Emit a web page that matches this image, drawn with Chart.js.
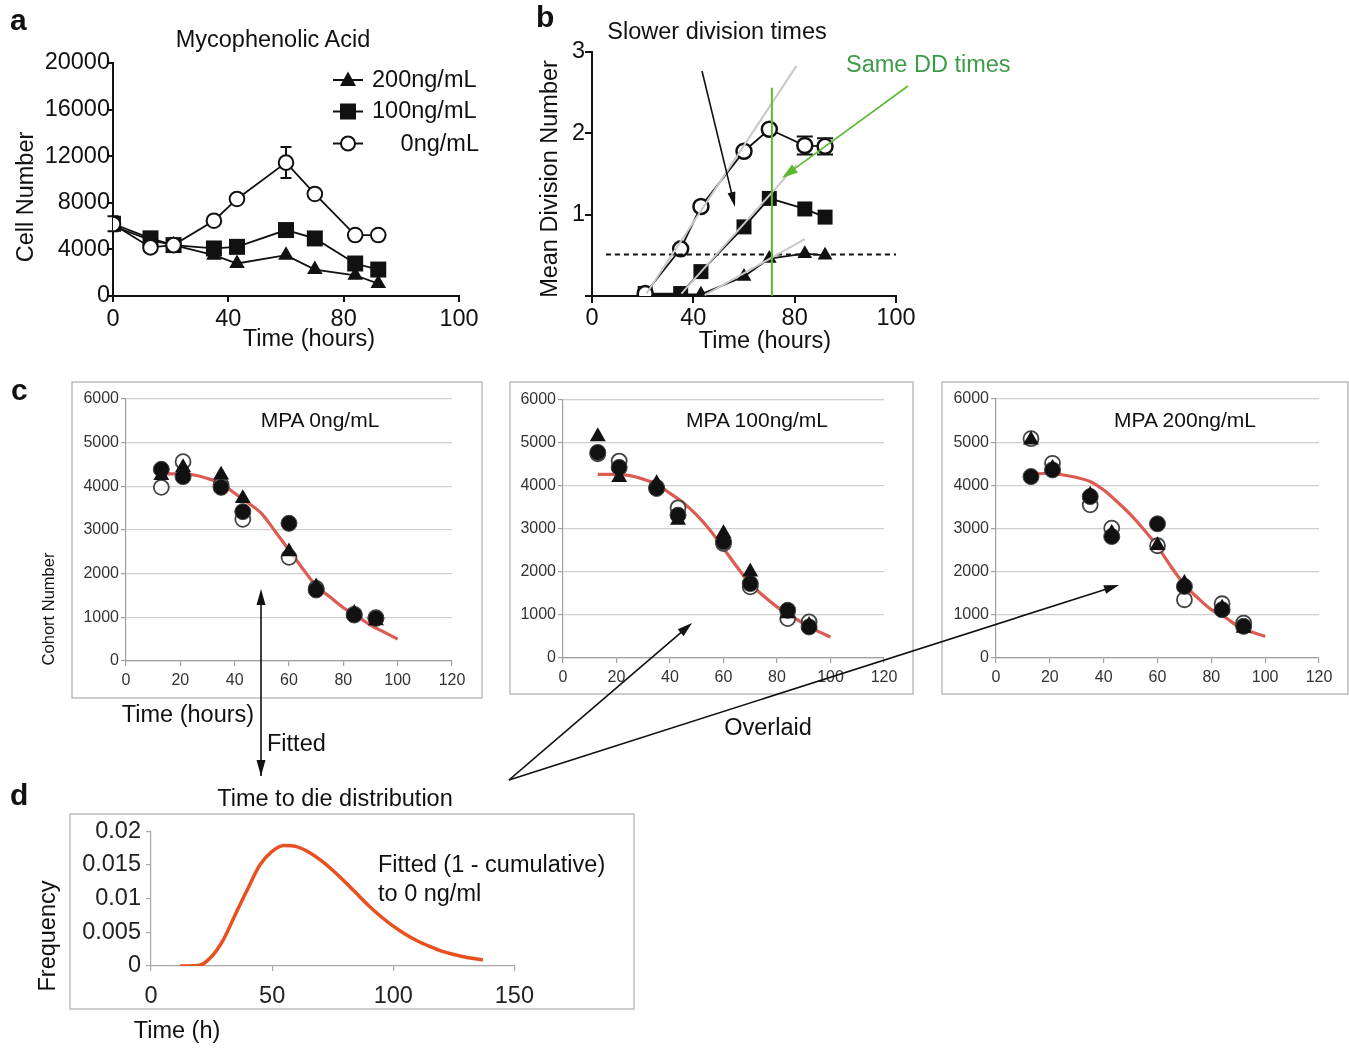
<!DOCTYPE html>
<html>
<head>
<meta charset="utf-8">
<script src="https://cdn.jsdelivr.net/npm/chart.js@4.4.1/dist/chart.umd.min.js"></script>
<style>
body { margin: 0; background: #fff; }
#fig { position: relative; width: 1349px; height: 1049px; overflow: hidden; background: #fff; }
#fig canvas { position: absolute; }
#ann { position: absolute; left: 0; top: 0; z-index: 5; pointer-events: none; }
#ann text { font-family: 'Liberation Sans', Arial, sans-serif; fill: #111; }
</style>
</head>
<body>
<div id="fig">
<svg id="ann" width="1349" height="1049" xmlns="http://www.w3.org/2000/svg">
  <!-- panel letters -->
  <g font-weight="bold" font-size="30">
    <text x="10" y="30">a</text>
    <text x="536" y="27">b</text>
    <text x="11" y="400">c</text>
    <text x="10" y="805">d</text>
  </g>
  <g font-size="23.5">
    <!-- a -->
    <text x="273" y="47" text-anchor="middle">Mycophenolic Acid</text>
    <text transform="translate(33,197) rotate(-90)" text-anchor="middle">Cell Number</text>
    <text x="309" y="346" text-anchor="middle">Time (hours)</text>
    <text x="372" y="87">200ng/mL</text>
    <text x="372" y="118">100ng/mL</text>
    <text x="479" y="151" text-anchor="end">0ng/mL</text>
    <!-- b -->
    <text x="717" y="39" text-anchor="middle">Slower division times</text>
    <text transform="translate(557,179) rotate(-90)" text-anchor="middle">Mean Division Number</text>
    <text x="765" y="348" text-anchor="middle">Time (hours)</text>
    <text x="846" y="72" style="fill:#3d9b47">Same DD times</text>
    <!-- c -->
    <text x="188" y="722" text-anchor="middle">Time (hours)</text>
    <text x="267" y="751">Fitted</text>
    <text x="768" y="735" text-anchor="middle">Overlaid</text>
    <!-- d -->
    <text x="335" y="806" text-anchor="middle">Time to die distribution</text>
    <text transform="translate(55,936) rotate(-90)" text-anchor="middle">Frequency</text>
    <text x="177" y="1038" text-anchor="middle">Time (h)</text>
    <text x="378" y="872">Fitted (1 - cumulative)</text>
    <text x="378" y="901">to 0 ng/ml</text>
  </g>
  <g font-size="21">
    <text x="320" y="427" text-anchor="middle">MPA 0ng/mL</text>
    <text x="757" y="427" text-anchor="middle">MPA 100ng/mL</text>
    <text x="1185" y="427" text-anchor="middle">MPA 200ng/mL</text>
  </g>
  <text transform="translate(54,609) rotate(-90)" text-anchor="middle" font-size="16.5">Cohort Number</text>
  <!-- frames -->
  <g fill="none" stroke="#bdbdbd" stroke-width="1.5">
    <rect x="72" y="382" width="410" height="316"/>
    <rect x="510" y="382" width="403" height="312"/>
    <rect x="942" y="382" width="406" height="312"/>
    <rect x="70" y="814" width="564" height="195"/>
  </g>
  <!-- legend of a -->
  <g stroke="#111" stroke-width="2">
    <line x1="333" y1="80" x2="363" y2="80"/>
    <line x1="333" y1="111.5" x2="363" y2="111.5"/>
    <line x1="333" y1="143.5" x2="363" y2="143.5"/>
  </g>
  <polygon points="348,71.5 356,86 340,86" fill="#111"/>
  <rect x="340" y="103.5" width="16" height="16" fill="#111"/>
  <circle cx="348" cy="143.5" r="7" fill="#fff" stroke="#111" stroke-width="2"/>
  <g id="arrows"></g>
</svg>
</div>
<script>
// ---- data ----
// panel a: cell number
const timesA = [0, 13, 21, 35, 43, 60, 70, 84, 92];
const cells0 = [6170, 4170, 4370, 6460, 8330, 11450, 8760, 5230, 5230];
const cells0Err = [0, 0, 0, 0, 0, 1330, 0, 0, 0];
const cells100 = [6200, 4950, 4370, 4080, 4220, 5660, 4940, 2790, 2270];
const cells100Err = [650, 0, 0, 0, 0, 0, 0, 0, 0];
const cells200 = [6000, 4800, 4370, 3500, 2790, 3500, 2270, 1780, 1070];
const ticksA = ['0', '40', '80', '100'];

// panel b: mean division number
const timesB = [21, 35, 43, 60, 70, 84, 92];
const div0 = [0.03, 0.58, 1.10, 1.78, 2.05, 1.85, 1.84];
const div0Err = [0, 0, 0, 0, 0, 0.11, 0.10];
const div100 = [0.03, 0.03, 0.30, 0.85, 1.20, 1.07, 0.97];
const div200 = [0.02, 0.02, 0.02, 0.24, 0.46, 0.52, 0.50];
const fit0X = [21.5, 80.7], fit0Y = [0.03, 2.83];
const fit100X = [35.3, 80.7], fit100Y = [0.03, 1.61];
const fit200X = [44.5, 84.0], fit200Y = [0.01, 0.70];
const halfX = [5.5, 120], halfY = [0.51, 0.51];
const ddX = [71, 71], ddY = [0, 2.56];

// panel c: cohort number, three replicates per dose
const timesC = [13, 21, 35, 43, 60, 70, 84, 92];
const c0Filled = [4390, 4222, 3977, 3420, 3153, 1626, 1053, 977];
const c0Open = [3977, 4565, 4030, 3245, 2374, 1664, 1070, 992];
const c0Tri = [4250, 4435, 4260, 3725, 2504, 1702, 1092, 924];
const c100Filled = [4780, 4432, 3943, 3322, 2701, 1731, 1110, 722];
const c100Open = [4750, 4580, 3966, 3493, 2662, 1653, 916, 838];
const c100Tri = [5150, 4200, 4060, 3206, 2895, 2003, 1032, 761];
const c200Filled = [4203, 4357, 3740, 2815, 3108, 1658, 1118, 733];
const c200Open = [5080, 4511, 3548, 3008, 2600, 1350, 1257, 810];
const c200Tri = [5050, 4396, 3779, 2892, 2607, 1735, 1157, 694];
const fitTimes = [13, 20, 25, 30, 35, 40, 45, 50, 55, 60, 65, 70, 75, 80, 85, 90, 95, 100];
const fitC0 = [4280, 4290, 4260, 4180, 4070, 3840, 3620, 3370, 2960, 2540, 2120, 1720, 1470, 1220, 1030, 820, 660, 500];
const fitC100 = [4270, 4270, 4240, 4160, 4040, 3830, 3610, 3320, 2970, 2550, 2120, 1730, 1440, 1190, 990, 800, 630, 490];
const fitC200 = [4260, 4280, 4240, 4180, 4090, 3890, 3620, 3320, 2970, 2580, 2120, 1700, 1390, 1120, 950, 730, 600, 500];

// panel d: time to die distribution
const dieTimes = [12, 15, 20, 25, 30, 35, 40, 45, 50, 55, 60, 65, 70, 75, 80, 85, 90, 95, 100, 105, 110, 115, 120, 125, 130, 137];
const dieFreq = [0, 0, 0.0001, 0.0014, 0.0040, 0.0078, 0.0115, 0.0150, 0.0170, 0.01785, 0.0177, 0.0169, 0.0157, 0.0142, 0.0125, 0.0107, 0.0089, 0.0073, 0.0059, 0.0047, 0.0037, 0.0029, 0.0022, 0.0017, 0.0013, 0.0009];

// ---- helpers ----
Chart.defaults.font.family = "'Liberation Sans', Arial, sans-serif";
Chart.defaults.color = '#111';

const xy = (xs, ys) => xs.map((x, i) => ({ x: x, y: ys[i] }));

const errorBars = {
  id: 'errorBars',
  beforeDatasetsDraw(chart) {
    const { ctx, scales: { x, y } } = chart;
    chart.data.datasets.forEach(ds => {
      if (!ds.errors) return;
      ctx.save();
      ctx.strokeStyle = '#111';
      ctx.lineWidth = 2;
      const cap = ds.capWidth || 5;
      ds.data.forEach((p, j) => {
        const e = ds.errors[j];
        if (!e) return;
        const px = x.getPixelForValue(p.x);
        const top = y.getPixelForValue(p.y + e);
        const bot = y.getPixelForValue(p.y - e);
        ctx.beginPath();
        ctx.moveTo(px, top); ctx.lineTo(px, bot);
        ctx.moveTo(px - cap, top); ctx.lineTo(px + cap, top);
        ctx.moveTo(px - cap, bot); ctx.lineTo(px + cap, bot);
        ctx.stroke();
      });
      ctx.restore();
    });
  }
};

// place a chart so that its plot area is exactly [L,R]x[T,B]
function makeChart(L, T, R, B, pad, datasets, scales) {
  const c = document.createElement('canvas');
  const w = R - L + pad.l + pad.r, h = B - T + pad.t + pad.b;
  c.width = w; c.height = h;
  c.style.left = (L - pad.l) + 'px';
  c.style.top = (T - pad.t) + 'px';
  document.getElementById('fig').insertBefore(c, document.getElementById('ann'));
  scales.x.afterFit = s => { s.height = pad.b; };
  scales.y.afterFit = s => { s.width = pad.l; };
  return new Chart(c, {
    type: 'scatter',
    data: { datasets: datasets },
    options: {
      responsive: false,
      animation: false,
      layout: { padding: { top: pad.t, right: pad.r, left: 0, bottom: 0 } },
      plugins: { legend: { display: false }, tooltip: { enabled: false } },
      scales: scales
    },
    plugins: [errorBars]
  });
}

function blackAxis(min, max, step, size, tl, padding, labels) {
  return {
    type: 'linear', min: min, max: max,
    ticks: {
      stepSize: step, padding: padding, color: '#111',
      font: { size: size },
      callback: (v, i) => labels ? labels[i] : String(v)
    },
    grid: { drawOnChartArea: false, tickLength: tl, color: '#111', lineWidth: 2 },
    border: { color: '#111', width: 2 }
  };
}

function series(data, style, radius, fill, opts) {
  return Object.assign({
    data: data, showLine: true, borderColor: '#111', borderWidth: 1.8,
    pointStyle: style, pointRadius: radius, pointBackgroundColor: fill,
    pointBorderColor: '#111', pointBorderWidth: fill === '#fff' ? 2 : 0
  }, opts || {});
}

// ---- panel a ----
makeChart(113, 63, 459, 296, { l: 113, t: 20, r: 26, b: 40 }, [
  series(xy(timesA, cells0), 'circle', 7.3, '#fff', { errors: cells0Err, capWidth: 5.5 }),
  series(xy(timesA, cells100), 'rect', 11.3, '#111', { errors: cells100Err, capWidth: 5.5 }),
  series(xy(timesA, cells200), 'triangle', 9, '#111')
], {
  x: blackAxis(0, 120, 40, 23.5, 6, 3, ticksA),
  y: blackAxis(0, 20000, 4000, 23.5, 6, -3)
});

// ---- panel b ----
const flat = (data, color, width, dash) => ({
  data: data, showLine: true, borderColor: color, borderWidth: width,
  borderDash: dash || [], pointRadius: 0
});
makeChart(592, 52, 896, 296, { l: 70, t: 20, r: 30, b: 40 }, [
  flat(xy(ddX, ddY), '#5db832', 2),
  flat(xy(fit0X, fit0Y), '#c8c8c8', 2),
  flat(xy(fit100X, fit100Y), '#c8c8c8', 2),
  flat(xy(fit200X, fit200Y), '#c8c8c8', 2),
  flat(xy(halfX, halfY), '#111', 2, [5, 4]),
  series(xy(timesB, div0), 'circle', 7.5, '#fff', { errors: div0Err, capWidth: 8, pointBorderWidth: 2.5 }),
  series(xy(timesB, div100), 'rect', 10.6, '#111'),
  series(xy(timesB, div200), 'triangle', 8.5, '#111')
], {
  x: blackAxis(0, 120, 40, 23.5, 7, 1, ticksA),
  y: blackAxis(0, 3, 1, 23.5, 7, 0, ['', '1', '2', '3'])
});

// ---- panel c ----
function greyAxis(min, max, step, grid) {
  return {
    type: 'linear', min: min, max: max,
    ticks: { stepSize: step, padding: grid ? 2 : 5, color: '#333', font: { size: 16 }, callback: v => String(v) },
    grid: { drawOnChartArea: grid, tickLength: 5, color: '#cfcfcf', tickColor: '#a0a0a0', lineWidth: 1.2 },
    border: { color: '#a0a0a0', width: 1.2 }
  };
}
function cohort(L, T, R, B, filled, open, tri, fit) {
  makeChart(L, T, R, B, { l: 52, t: 12, r: 22, b: 30 }, [
    Object.assign(series(xy(timesC, tri), 'triangle', 9.2, '#111'), { showLine: false, order: 0 }),
    Object.assign(series(xy(timesC, filled), 'circle', 8, '#111'), { showLine: false, order: 1, pointBorderColor: '#444', pointBorderWidth: 1 }),
    Object.assign(series(xy(timesC, open), 'circle', 7.5, 'rgba(255,255,255,0.7)'), { showLine: false, order: 2, pointBorderColor: '#444', pointBorderWidth: 1.8 }),
    { data: xy(fitTimes, fit), showLine: true, borderColor: '#dc5b52', borderWidth: 3.2, pointRadius: 0, tension: 0.4, cubicInterpolationMode: 'monotone', order: 3 }
  ], {
    x: greyAxis(0, 120, 20, false),
    y: greyAxis(0, 6000, 1000, true)
  });
}
cohort(126, 399, 452, 661, c0Filled, c0Open, c0Tri, fitC0);
cohort(563, 400, 884, 658, c100Filled, c100Open, c100Tri, fitC100);
cohort(996, 399, 1319, 658, c200Filled, c200Open, c200Tri, fitC200);

// ---- panel d ----
function dAxis(min, max, step, padding, fmt) {
  return {
    type: 'linear', min: min, max: max,
    ticks: { stepSize: step, padding: padding, color: '#222', font: { size: 23.5 }, callback: fmt },
    grid: { drawOnChartArea: false, tickLength: 5, color: '#a8a8a8', lineWidth: 1.2 },
    border: { color: '#a8a8a8', width: 1.2 }
  };
}
makeChart(151, 827, 515, 966, { l: 70, t: 15, r: 30, b: 42 }, [
  { data: xy(dieTimes, dieFreq), showLine: true, borderColor: '#e8501f', borderWidth: 3.5, pointRadius: 0, tension: 0.4, cubicInterpolationMode: 'monotone' }
], {
  x: dAxis(0, 150, 50, 11, v => String(v)),
  y: dAxis(0, 0.02, 0.005, 5, v => String(+v.toFixed(3)))
});

// ---- annotation arrows ----
function arrow(x1, y1, x2, y2, color, len, wid, both) {
  const g = document.getElementById('arrows');
  const ns = 'http://www.w3.org/2000/svg';
  const a = Math.atan2(y2 - y1, x2 - x1);
  const head = (tx, ty, ang) => {
    const bx = tx - len * Math.cos(ang), by = ty - len * Math.sin(ang);
    const px = wid * Math.sin(ang), py = -wid * Math.cos(ang);
    const p = document.createElementNS(ns, 'polygon');
    p.setAttribute('points', `${tx},${ty} ${bx + px},${by + py} ${bx - px},${by - py}`);
    p.setAttribute('fill', color);
    g.appendChild(p);
  };
  const l = document.createElementNS(ns, 'line');
  l.setAttribute('x1', x1); l.setAttribute('y1', y1);
  l.setAttribute('x2', x2 - (len * 0.8) * Math.cos(a)); l.setAttribute('y2', y2 - (len * 0.8) * Math.sin(a));
  l.setAttribute('stroke', color); l.setAttribute('stroke-width', 1.6);
  g.appendChild(l);
  head(x2, y2, a);
  if (both) head(x1, y1, a + Math.PI);
}
arrow(702, 71, 735, 207, '#111', 15, 4);
arrow(908, 86, 782, 178, '#5db832', 16, 5);
arrow(261, 776, 261, 589, '#111', 16, 4.5, true);
arrow(509, 780, 692, 623, '#111', 15, 4.5);
arrow(509, 780, 1119, 585, '#111', 15, 4.5);
</script>
</body>
</html>
